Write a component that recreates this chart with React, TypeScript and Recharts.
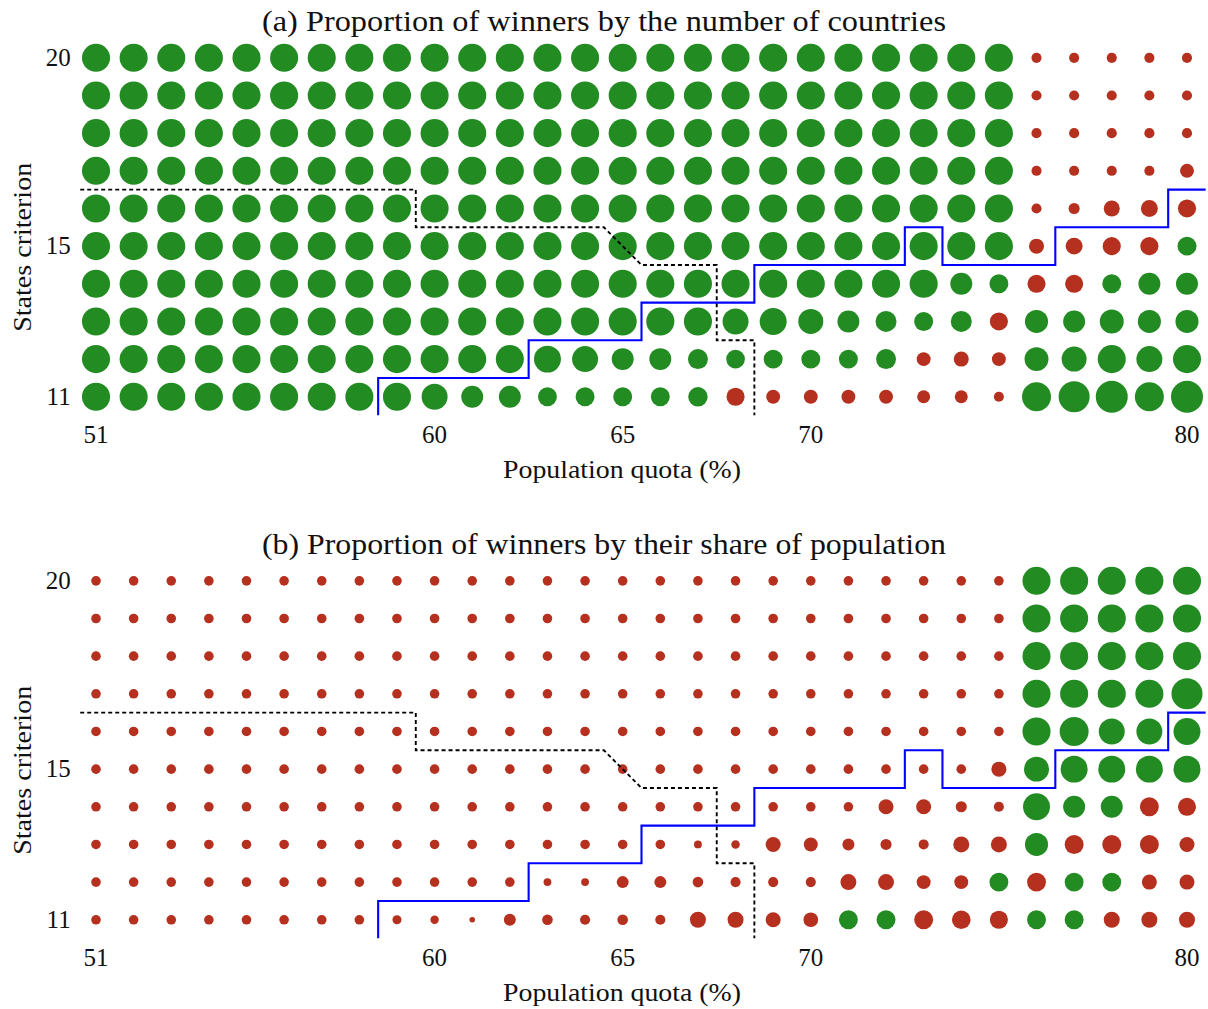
import React from 'react';
import { ScatterChart, Scatter, XAxis, YAxis, ZAxis } from 'recharts';

const quotas = [51, 52, 53, 54, 55, 56, 57, 58, 59, 60, 61, 62, 63, 64, 65, 66, 67, 68, 69, 70, 71, 72, 73, 74, 75, 76, 77, 78, 79, 80];
const criteria = [20, 19, 18, 17, 16, 15, 14, 13, 12, 11];
const xTicks = [51, 60, 65, 70, 80];
const yTicks = [11, 15, 20];

// signed values: positive = majority (green), negative = minority (red); magnitude = proportion
const byCountries = [
  [0.77, 0.77, 0.77, 0.77, 0.77, 0.77, 0.77, 0.77, 0.77, 0.77, 0.77, 0.77, 0.77, 0.77, 0.77, 0.77, 0.77, 0.77, 0.77, 0.77, 0.77, 0.77, 0.77, 0.77, 0.77, -0.10, -0.10, -0.10, -0.10, -0.10],
  [0.77, 0.77, 0.77, 0.77, 0.77, 0.77, 0.77, 0.77, 0.77, 0.77, 0.77, 0.77, 0.77, 0.77, 0.77, 0.77, 0.77, 0.77, 0.77, 0.77, 0.77, 0.77, 0.77, 0.77, 0.77, -0.10, -0.10, -0.10, -0.10, -0.10],
  [0.77, 0.77, 0.77, 0.77, 0.77, 0.77, 0.77, 0.77, 0.77, 0.77, 0.77, 0.77, 0.77, 0.77, 0.77, 0.77, 0.77, 0.77, 0.77, 0.77, 0.77, 0.77, 0.77, 0.77, 0.77, -0.10, -0.10, -0.10, -0.10, -0.10],
  [0.77, 0.77, 0.77, 0.77, 0.77, 0.77, 0.77, 0.77, 0.77, 0.77, 0.77, 0.77, 0.77, 0.77, 0.77, 0.77, 0.77, 0.77, 0.77, 0.77, 0.77, 0.77, 0.77, 0.77, 0.77, -0.10, -0.10, -0.10, -0.10, -0.19],
  [0.77, 0.77, 0.77, 0.77, 0.77, 0.77, 0.77, 0.77, 0.77, 0.77, 0.77, 0.77, 0.77, 0.77, 0.77, 0.77, 0.77, 0.77, 0.77, 0.77, 0.77, 0.77, 0.77, 0.77, 0.77, -0.10, -0.12, -0.25, -0.28, -0.32],
  [0.77, 0.77, 0.77, 0.77, 0.77, 0.77, 0.77, 0.77, 0.77, 0.77, 0.77, 0.77, 0.77, 0.77, 0.77, 0.77, 0.77, 0.77, 0.77, 0.77, 0.77, 0.77, 0.77, 0.77, 0.77, -0.22, -0.28, -0.32, -0.32, 0.35],
  [0.77, 0.77, 0.77, 0.77, 0.77, 0.77, 0.77, 0.77, 0.77, 0.77, 0.77, 0.77, 0.77, 0.77, 0.77, 0.77, 0.77, 0.77, 0.77, 0.77, 0.77, 0.77, 0.77, 0.47, 0.35, -0.32, -0.32, 0.35, 0.47, 0.47],
  [0.77, 0.77, 0.77, 0.77, 0.77, 0.77, 0.77, 0.77, 0.77, 0.77, 0.77, 0.77, 0.77, 0.77, 0.77, 0.77, 0.77, 0.66, 0.71, 0.61, 0.47, 0.43, 0.35, 0.43, -0.32, 0.52, 0.47, 0.56, 0.52, 0.52],
  [0.77, 0.77, 0.77, 0.77, 0.77, 0.77, 0.77, 0.77, 0.77, 0.77, 0.77, 0.77, 0.71, 0.66, 0.47, 0.47, 0.39, 0.34, 0.35, 0.35, 0.35, 0.39, -0.19, -0.22, -0.19, 0.56, 0.61, 0.77, 0.66, 0.77],
  [0.77, 0.77, 0.77, 0.77, 0.77, 0.77, 0.77, 0.77, 0.77, 0.66, 0.47, 0.47, 0.35, 0.35, 0.35, 0.35, 0.37, -0.32, -0.19, -0.19, -0.19, -0.19, -0.165, -0.165, -0.10, 0.82, 0.94, 1.0, 0.82, 1.0],
];

const byPopulation = [
  [-0.09, -0.09, -0.09, -0.09, -0.09, -0.09, -0.09, -0.09, -0.09, -0.09, -0.09, -0.09, -0.09, -0.09, -0.09, -0.09, -0.09, -0.09, -0.09, -0.09, -0.09, -0.09, -0.09, -0.09, -0.09, 0.77, 0.77, 0.77, 0.77, 0.77],
  [-0.09, -0.09, -0.09, -0.09, -0.09, -0.09, -0.09, -0.09, -0.09, -0.09, -0.09, -0.09, -0.09, -0.09, -0.09, -0.09, -0.09, -0.09, -0.09, -0.09, -0.09, -0.09, -0.09, -0.09, -0.09, 0.77, 0.77, 0.77, 0.77, 0.77],
  [-0.09, -0.09, -0.09, -0.09, -0.09, -0.09, -0.09, -0.09, -0.09, -0.09, -0.09, -0.09, -0.09, -0.09, -0.09, -0.09, -0.09, -0.09, -0.09, -0.09, -0.09, -0.09, -0.09, -0.09, -0.09, 0.77, 0.77, 0.77, 0.77, 0.77],
  [-0.09, -0.09, -0.09, -0.09, -0.09, -0.09, -0.09, -0.09, -0.09, -0.09, -0.09, -0.09, -0.09, -0.09, -0.09, -0.09, -0.09, -0.09, -0.09, -0.09, -0.09, -0.09, -0.09, -0.09, -0.09, 0.77, 0.77, 0.77, 0.77, 0.94],
  [-0.09, -0.09, -0.09, -0.09, -0.09, -0.09, -0.09, -0.09, -0.09, -0.09, -0.09, -0.09, -0.09, -0.09, -0.09, -0.09, -0.09, -0.09, -0.09, -0.09, -0.09, -0.09, -0.09, -0.09, -0.09, 0.77, 0.82, 0.66, 0.66, 0.71],
  [-0.09, -0.09, -0.09, -0.09, -0.09, -0.09, -0.09, -0.09, -0.09, -0.09, -0.09, -0.09, -0.09, -0.09, -0.09, -0.09, -0.09, -0.09, -0.09, -0.09, -0.09, -0.09, -0.09, -0.09, -0.22, 0.61, 0.71, 0.71, 0.71, 0.71],
  [-0.09, -0.09, -0.09, -0.09, -0.09, -0.09, -0.09, -0.09, -0.09, -0.09, -0.09, -0.09, -0.09, -0.09, -0.09, -0.09, -0.09, -0.09, -0.09, -0.09, -0.09, -0.22, -0.22, -0.12, -0.10, 0.71, 0.47, 0.47, -0.35, -0.32],
  [-0.09, -0.09, -0.09, -0.09, -0.09, -0.09, -0.09, -0.09, -0.09, -0.09, -0.09, -0.09, -0.09, -0.09, -0.09, -0.09, -0.06, -0.07, -0.22, -0.19, -0.14, -0.12, -0.10, -0.25, -0.25, 0.52, -0.35, -0.35, -0.35, -0.22],
  [-0.09, -0.09, -0.09, -0.09, -0.09, -0.09, -0.09, -0.09, -0.09, -0.09, -0.09, -0.09, -0.06, -0.06, -0.14, -0.14, -0.11, -0.10, -0.10, -0.10, -0.25, -0.25, -0.19, -0.19, 0.35, -0.35, 0.35, 0.35, -0.22, -0.22],
  [-0.09, -0.09, -0.09, -0.09, -0.09, -0.09, -0.09, -0.09, -0.08, -0.07, -0.03, -0.14, -0.11, -0.10, -0.11, -0.10, -0.25, -0.25, -0.22, -0.21, 0.35, 0.35, -0.35, -0.34, -0.32, 0.35, 0.35, -0.25, -0.25, -0.25],
];

const dottedBoundary = [
  { x: 50.58, y: 16.5 }, { x: 59.5, y: 16.5 }, { x: 59.5, y: 15.5 }, { x: 64.5, y: 15.5 },
  { x: 65.5, y: 14.5 }, { x: 67.5, y: 14.5 }, { x: 67.5, y: 12.5 }, { x: 68.5, y: 12.5 }, { x: 68.5, y: 10.5 },
];

const blueBoundary = [
  { x: 58.5, y: 10.5 }, { x: 58.5, y: 11.5 }, { x: 62.5, y: 11.5 }, { x: 62.5, y: 12.5 },
  { x: 65.5, y: 12.5 }, { x: 65.5, y: 13.5 }, { x: 68.5, y: 13.5 }, { x: 68.5, y: 14.5 },
  { x: 72.5, y: 14.5 }, { x: 72.5, y: 15.5 }, { x: 73.5, y: 15.5 }, { x: 73.5, y: 14.5 },
  { x: 76.5, y: 14.5 }, { x: 76.5, y: 15.5 }, { x: 79.5, y: 15.5 }, { x: 79.5, y: 16.5 }, { x: 80.5, y: 16.5 },
];

const FONT = '"Liberation Serif", "DejaVu Serif", serif';
const GREEN = '#228B22';
const RED = '#B5301E';
const INK = '#111111';

function splitPoints(rows: number[][], positive: boolean) {
  const out: { x: number; y: number; z: number }[] = [];
  rows.forEach((row, i) =>
    row.forEach((v, j) => {
      if (v > 0 === positive) out.push({ x: quotas[j], y: criteria[i], z: Math.abs(v) });
    })
  );
  return out;
}

const dot = (color: string) => (p: any) => {
  const r = p.width ? p.width / 2 : Math.sqrt((p.size || 0) / Math.PI);
  return <circle cx={p.cx} cy={p.cy} r={r} fill={color} />;
};

const empty = () => <g />;

const XTick = (p: any) => (
  <text x={p.x} y={p.y + 27} textAnchor="middle" fontFamily={FONT} fontSize={25} fill={INK}>
    {p.payload.value}
  </text>
);

const YTick = (p: any) => (
  <text x={p.x - 6.5} y={p.y + 8} textAnchor="end" fontFamily={FONT} fontSize={25} fill={INK}>
    {p.payload.value}
  </text>
);

const xLabel = (props: any) => {
  const vb = props.viewBox || { y: 415.6 };
  return (
    <text x={622} y={vb.y + 62} textAnchor="middle" fontFamily={FONT} fontSize={26} fill={INK} textLength={238} lengthAdjust="spacingAndGlyphs">
      Population quota (%)
    </text>
  );
};

const yLabel = (props: any) => {
  const vb = props.viewBox || { y: 39, height: 376.6 };
  const cy = vb.y + vb.height / 2 + 20;
  return (
    <text x={0} y={0} transform={`translate(31, ${cy}) rotate(-90)`} textAnchor="middle" fontFamily={FONT} fontSize={26} fill={INK} textLength={169} lengthAdjust="spacingAndGlyphs">
      States criterion
    </text>
  );
};

function Panel({ top, height, title, rows }: { top: number; height: number; title: string; rows: number[][] }) {
  const plotTop = 39;
  const plotH = 376.6;
  const xAxisH = 70;
  const bottom = height - plotTop - plotH - xAxisH;
  const greens = splitPoints(rows, true);
  const reds = splitPoints(rows, false);
  return (
    <div style={{ position: 'absolute', left: 0, top, width: 1208, height }}>
      <ScatterChart width={1208} height={height} margin={{ top: plotTop, right: 2.2, bottom, left: 0 }}>
        <XAxis
          type="number"
          dataKey="x"
          domain={[50.5, 80.5]}
          ticks={xTicks}
          interval={0}
          allowDataOverflow
          axisLine={false}
          tickLine={false}
          tickSize={0}
          tickMargin={0}
          height={xAxisH}
          tick={XTick}
          label={xLabel}
        />
        <YAxis
          type="number"
          dataKey="y"
          domain={[10.5, 20.5]}
          ticks={yTicks}
          interval={0}
          allowDataOverflow
          axisLine={false}
          tickLine={false}
          tickSize={0}
          tickMargin={0}
          width={77.2}
          tick={YTick}
          label={yLabel}
        />
        <ZAxis type="number" dataKey="z" domain={[0, 1]} range={[0, 804]} />
        <Scatter data={greens} shape={dot(GREEN)} isAnimationActive={false} />
        <Scatter data={reds} shape={dot(RED)} isAnimationActive={false} />
        <Scatter
          data={dottedBoundary}
          line={{ stroke: '#000000', strokeWidth: 1.9, strokeDasharray: '4 3' }}
          lineType="joint"
          shape={empty}
          isAnimationActive={false}
        />
        <Scatter
          data={blueBoundary}
          line={{ stroke: '#0000FF', strokeWidth: 2.1 }}
          lineType="joint"
          shape={empty}
          isAnimationActive={false}
        />
      </ScatterChart>
      <svg width={1208} height={40} style={{ position: 'absolute', left: 0, top: 0, pointerEvents: 'none' }}>
        <text x={604} y={31} textAnchor="middle" fontFamily={FONT} fontSize={29} fill={INK} textLength={684} lengthAdjust="spacingAndGlyphs">
          {title}
        </text>
      </svg>
    </div>
  );
}

export default function App() {
  return (
    <div style={{ position: 'absolute', left: 0, top: 0, width: 1208, height: 1009, background: '#ffffff', overflow: 'hidden' }}>
      <Panel top={0} height={523} title="(a) Proportion of winners by the number of countries" rows={byCountries} />
      <Panel top={523} height={486} title="(b) Proportion of winners by their share of population" rows={byPopulation} />
    </div>
  );
}
